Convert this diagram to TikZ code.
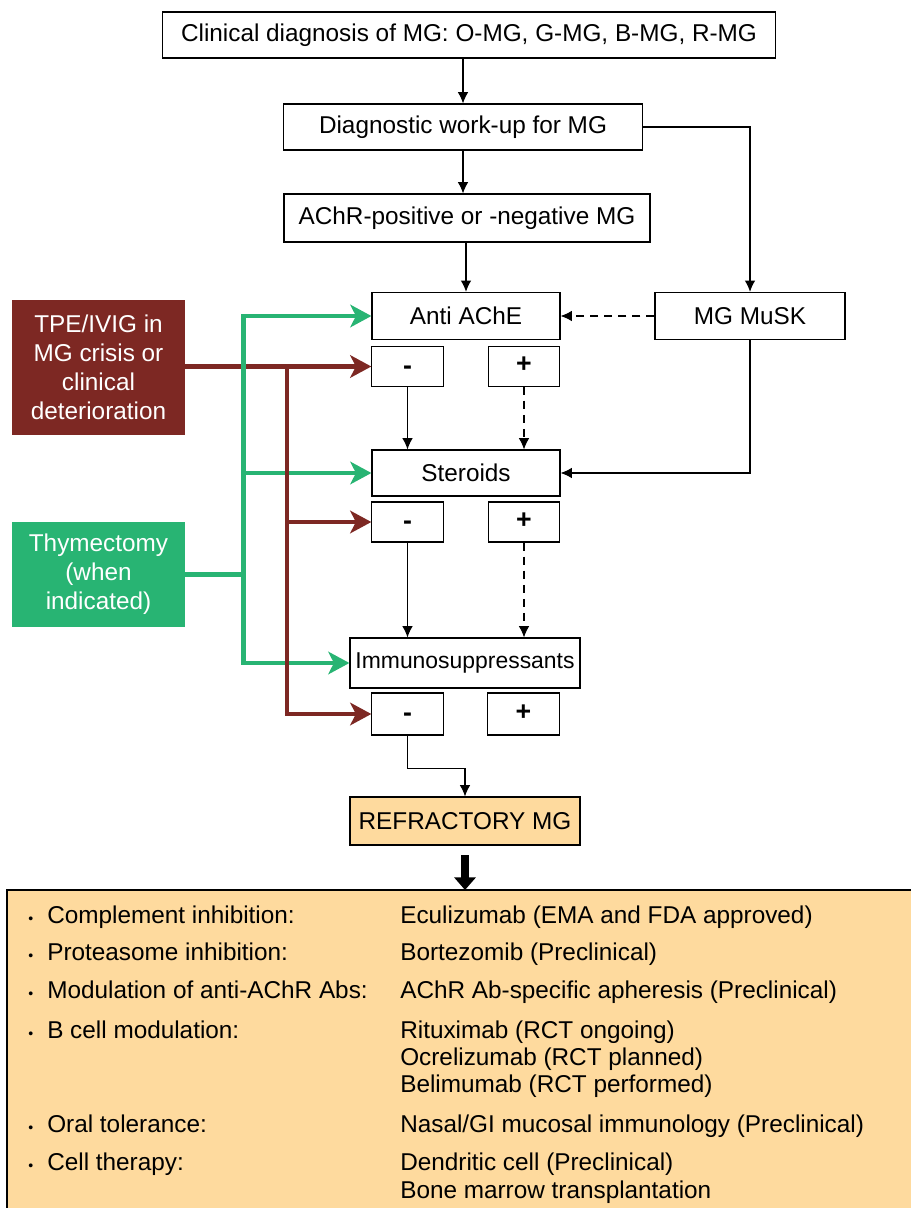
\documentclass[tikz,border=0pt]{standalone}
\usepackage{fontspec}
\setmainfont{Liberation Sans}
\usetikzlibrary{arrows.meta}
\definecolor{tpered}{RGB}{125,40,35}
\definecolor{thymgreen}{RGB}{40,180,115}
\definecolor{refrorange}{RGB}{254,218,158}
\newcommand\bul{\llap{\fontsize{10}{10}\selectfont\textbullet\hspace{10pt}}}
\newcommand\minussign{\raisebox{-2.5pt}{-}}
\newcommand\plussign{\raisebox{-1.5pt}{+}}
\begin{document}
\begin{tikzpicture}[
x=0.025cm, y=-0.025cm,
font=\fontsize{17.3}{20.5}\selectfont,
box/.style = {draw, line width=0.8pt, inner sep=0pt, fill=white},
signbox/.style = {box, minimum width=1.78cm, text height=0.6em, text depth=0pt, font=\fontsize{19}{20}\selectfont\bfseries},
colbox/.style = {inner sep=0pt, text=white, align=center, minimum width=4.33cm},
optline/.style = {anchor=base west, inner sep=0pt},
arr/.style = {line width=0.8pt, -{Latex[length=8pt,width=7.5pt]}},
darr/.style = {arr, dash pattern=on 6pt off 4pt},
garr/.style = {line width=3pt, draw=thymgreen, -{Stealth[length=15pt,width=16pt,inset=4pt]}},
rarr/.style = {line width=3pt, draw=tpered, -{Stealth[length=15pt,width=16pt,inset=4pt]}}
                        ]
\useasboundingbox (0,0) rectangle (911,1208);

% main column
\node[box, minimum width=15.3cm, minimum height=1.15cm] (top) at (469,35) {Clinical diagnosis of MG: O-MG, G-MG, B-MG, R-MG};
\node[box, minimum width=8.98cm, minimum height=1.15cm] (workup) at (463,127) {Diagnostic work-up for MG};
\node[box, minimum width=9.15cm, minimum height=1.2cm] (achr) at (467,218) {AChR-positive or -negative MG};
\node[box, minimum width=4.7cm, minimum height=1.18cm] (antiache) at (466,316) {Anti AChE};
\node[box, minimum width=4.75cm, minimum height=1.18cm] (musk) at (750,316) {MG MuSK};

\node[signbox, minimum height=0.98cm] (minusA) at (407.5,366.5) {\minussign};
\node[signbox, minimum height=0.98cm] (plusA) at (524,366.5) {\plussign};

\node[box, minimum width=4.7cm, minimum height=1.15cm] (steroids) at (466,473) {Steroids};
\node[signbox, minimum height=1cm] (minusB) at (407.5,522) {\minussign};
\node[signbox, minimum height=1cm] (plusB) at (524,522) {\plussign};

\node[box, minimum width=5.75cm, minimum height=1.25cm, font=\fontsize{16.3}{20}\selectfont] (immuno) at (465,663) {Immunosuppressants};
\node[signbox, minimum height=1.05cm] (minusC) at (407.5,714) {\minussign};
\node[signbox, minimum height=1.05cm] (plusC) at (523.5,714) {\plussign};

\node[box, fill=refrorange, minimum width=5.75cm, minimum height=1.2cm] (refract) at (465,821) {REFRACTORY MG};

% left boxes
\node[colbox, fill=tpered, minimum height=3.38cm] (tpe) at (98.5,367.5) {TPE/IVIG in\\MG crisis or\\clinical\\deterioration};
\node[colbox, fill=thymgreen, minimum height=2.63cm] (thym) at (98.5,574.5) {Thymectomy\\(when\\indicated)};

% black connectors
\draw[arr] (top.south -| workup.north) -- (workup.north);
\draw[arr] (workup.south) -- (workup.south |- achr.north);
\draw[arr] (achr.south -| antiache.north) -- (antiache.north);
\draw[arr] (workup.east) -| (musk.north);
\draw[darr] (musk.west) -- (antiache.east);
\draw[arr] (minusA) -- (minusA |- steroids.north);
\draw[darr] (plusA) -- (plusA |- steroids.north);
\draw[arr] (musk.south) |- (steroids.east);
\draw[arr] (minusB) -- (minusB |- immuno.north);
\draw[darr] (plusB) -- (plusB |- immuno.north);
\draw[arr] (minusC.south) -- ++(0,33) -| (refract.north);

% red: TPE/IVIG
\draw[rarr] (tpe.east |- minusA) -- (minusA.west);

% green: thymectomy
\draw[line width=3pt, draw=thymgreen] (thym.east) -- ++(58,0) coordinate (gbus);
\draw[garr] (gbus) |- (antiache.west);
\draw[garr] (gbus) |- (steroids.west);
\draw[garr] (gbus) |- (immuno.west);

% red bus on top
\coordinate (rbus) at (287,366.5);
\draw[rarr] (rbus) |- (minusB.west);
\draw[rarr] (rbus) |- (minusC.west);

% options box
\draw[line width=0.8pt, fill=refrorange] (7,890) coordinate (options) rectangle (920,1215);
\draw[line width=5.5pt, shorten <=7pt, -{Triangle[length=9pt,width=15pt]}] (refract.south) -- (refract.south |- options);

\node[optline] (optA) at (47,923) {\bul Complement inhibition:};
\node[optline] (optB) at (47,960) {\bul Proteasome inhibition:};
\node[optline] (optC) at (47,998) {\bul Modulation of anti-AChR Abs:};
\node[optline] (optD) at (47,1038) {\bul B cell modulation:};
\node[optline] (optE) at (47,1132) {\bul Oral tolerance:};
\node[optline] (optF) at (47,1170) {\bul Cell therapy:};

\node[optline] (drugA) at (400,923) {Eculizumab (EMA and FDA approved)};
\node[optline] (drugB) at (400,960) {Bortezomib (Preclinical)};
\node[optline] (drugC) at (400,998) {AChR Ab-specific apheresis (Preclinical)};
\node[optline] (drugD) at (400,1038) {Rituximab (RCT ongoing)};
\node[optline] (drugE) at (400,1065) {Ocrelizumab (RCT planned)};
\node[optline] (drugF) at (400,1092) {Belimumab (RCT performed)};
\node[optline] (drugG) at (400,1132) {Nasal/GI mucosal immunology (Preclinical)};
\node[optline] (drugH) at (400,1170) {Dendritic cell (Preclinical)};
\node[optline] (drugI) at (400,1198) {Bone marrow transplantation};

\end{tikzpicture}
\end{document}
